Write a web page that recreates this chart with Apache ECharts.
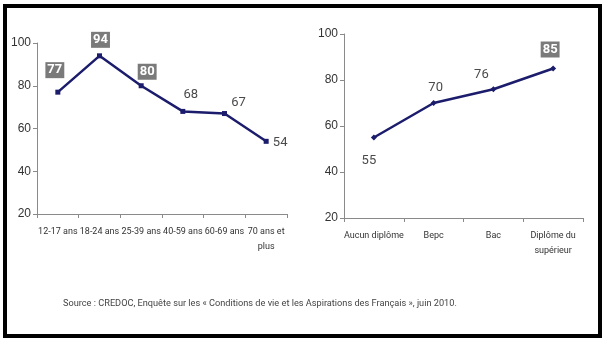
<!DOCTYPE html>
<html>
<head>
<meta charset="utf-8">
<script src="https://cdn.jsdelivr.net/npm/echarts@6/dist/echarts.min.js"></script>
<style>
  html, body { margin: 0; padding: 0; background: #fff; }
  #chart { width: 605px; height: 344px; }
</style>
</head>
<body>
<div id="chart"></div>
<script>
// Share of people (%) by age group and by diploma
const ageCategories = ['12-17 ans', '18-24 ans', '25-39 ans', '40-59 ans', '60-69 ans', '70 ans et\nplus'];
const ageValues = [77, 94, 80, 68, 67, 54];
const diplomaCategories = ['Aucun diplôme', 'Bepc', 'Bac', 'Diplôme du\nsupérieur'];
const diplomaValues = [55, 70, 76, 85];
const yTicks = [20, 40, 60, 80, 100];
const sourceText = 'Source : CREDOC, Enquête sur les « Conditions de vie et les Aspirations des Français », juin 2010.';

// Which values are highlighted in a grey box
const ageHighlight = [true, true, true, false, false, false];
const diplomaHighlight = [false, false, false, true];

// Label placement around each point [dx, dy]
const ageLabelOffsets = [[-3, -22], [1, -16], [6, -14], [8, -17], [14, -11], [14, 1]];
const diplomaLabelOffsets = [[-5, 23], [2, -15], [-12, -14], [-3, -19]];

const lineColor = '#1c1c6c';

function labelled(values, highlight, offsets) {
  return values.map((v, i) => ({
    value: v,
    label: highlight[i] ? {
      show: true, position: 'inside', offset: offsets[i],
      color: '#fff', fontWeight: 'bold', fontSize: 13,
      fontFamily: 'Roboto',
      backgroundColor: '#7a7a7a', padding: [2, 2, 1, 2]
    } : {
      show: true, position: 'inside', offset: offsets[i],
      color: '#4a4a4a', fontSize: 13, fontFamily: 'Roboto'
    }
  }));
}

function valueAxis(gridIndex) {
  return {
    type: 'value', gridIndex,
    min: yTicks[0], max: yTicks[yTicks.length - 1], interval: 20,
    axisLine: { show: true, lineStyle: { color: '#8a8a8a', width: 1 } },
    axisTick: { show: true, length: 4, lineStyle: { color: '#8a8a8a' } },
    axisLabel: { color: '#333', fontSize: 12, fontFamily: 'Liberation Sans', margin: 6 },
    splitLine: { show: false }
  };
}

function categoryAxis(gridIndex, data) {
  return {
    type: 'category', gridIndex, data,
    boundaryGap: true,
    axisLine: { show: true, lineStyle: { color: '#8a8a8a', width: 1 } },
    axisTick: { show: true, length: 4, alignWithLabel: false, lineStyle: { color: '#8a8a8a' } },
    axisLabel: {
      color: '#333', fontSize: 9, fontFamily: 'Roboto',
      margin: 10, lineHeight: 15, interval: 0
    }
  };
}

const chart = echarts.init(document.getElementById('chart'), null, { renderer: 'canvas' });

chart.setOption({
  animation: false,
  backgroundColor: '#fff',
  graphic: [{
    type: 'rect', silent: true,
    shape: { x: 5, y: 6, width: 595, height: 330 },
    style: { fill: 'none', stroke: '#000', lineWidth: 4 }
  }],
  title: {
    text: sourceText, left: 58, top: 294,
    textStyle: { color: '#444', fontSize: 9.2, fontWeight: 'normal', fontFamily: 'Roboto' }
  },
  grid: [
    { left: 37, right: 318, top: 43, bottom: 130 },
    { left: 344, right: 22, top: 34, bottom: 126 }
  ],
  xAxis: [categoryAxis(0, ageCategories), categoryAxis(1, diplomaCategories)],
  yAxis: [valueAxis(0), valueAxis(1)],
  series: [
    {
      type: 'line', xAxisIndex: 0, yAxisIndex: 0,
      data: labelled(ageValues, ageHighlight, ageLabelOffsets),
      symbol: 'rect', symbolSize: 5,
      lineStyle: { color: lineColor, width: 2.5 },
      itemStyle: { color: lineColor }
    },
    {
      type: 'line', xAxisIndex: 1, yAxisIndex: 1,
      data: labelled(diplomaValues, diplomaHighlight, diplomaLabelOffsets),
      symbol: 'diamond', symbolSize: 6,
      lineStyle: { color: lineColor, width: 2.5 },
      itemStyle: { color: lineColor }
    }
  ]
});
</script>
</body>
</html>
